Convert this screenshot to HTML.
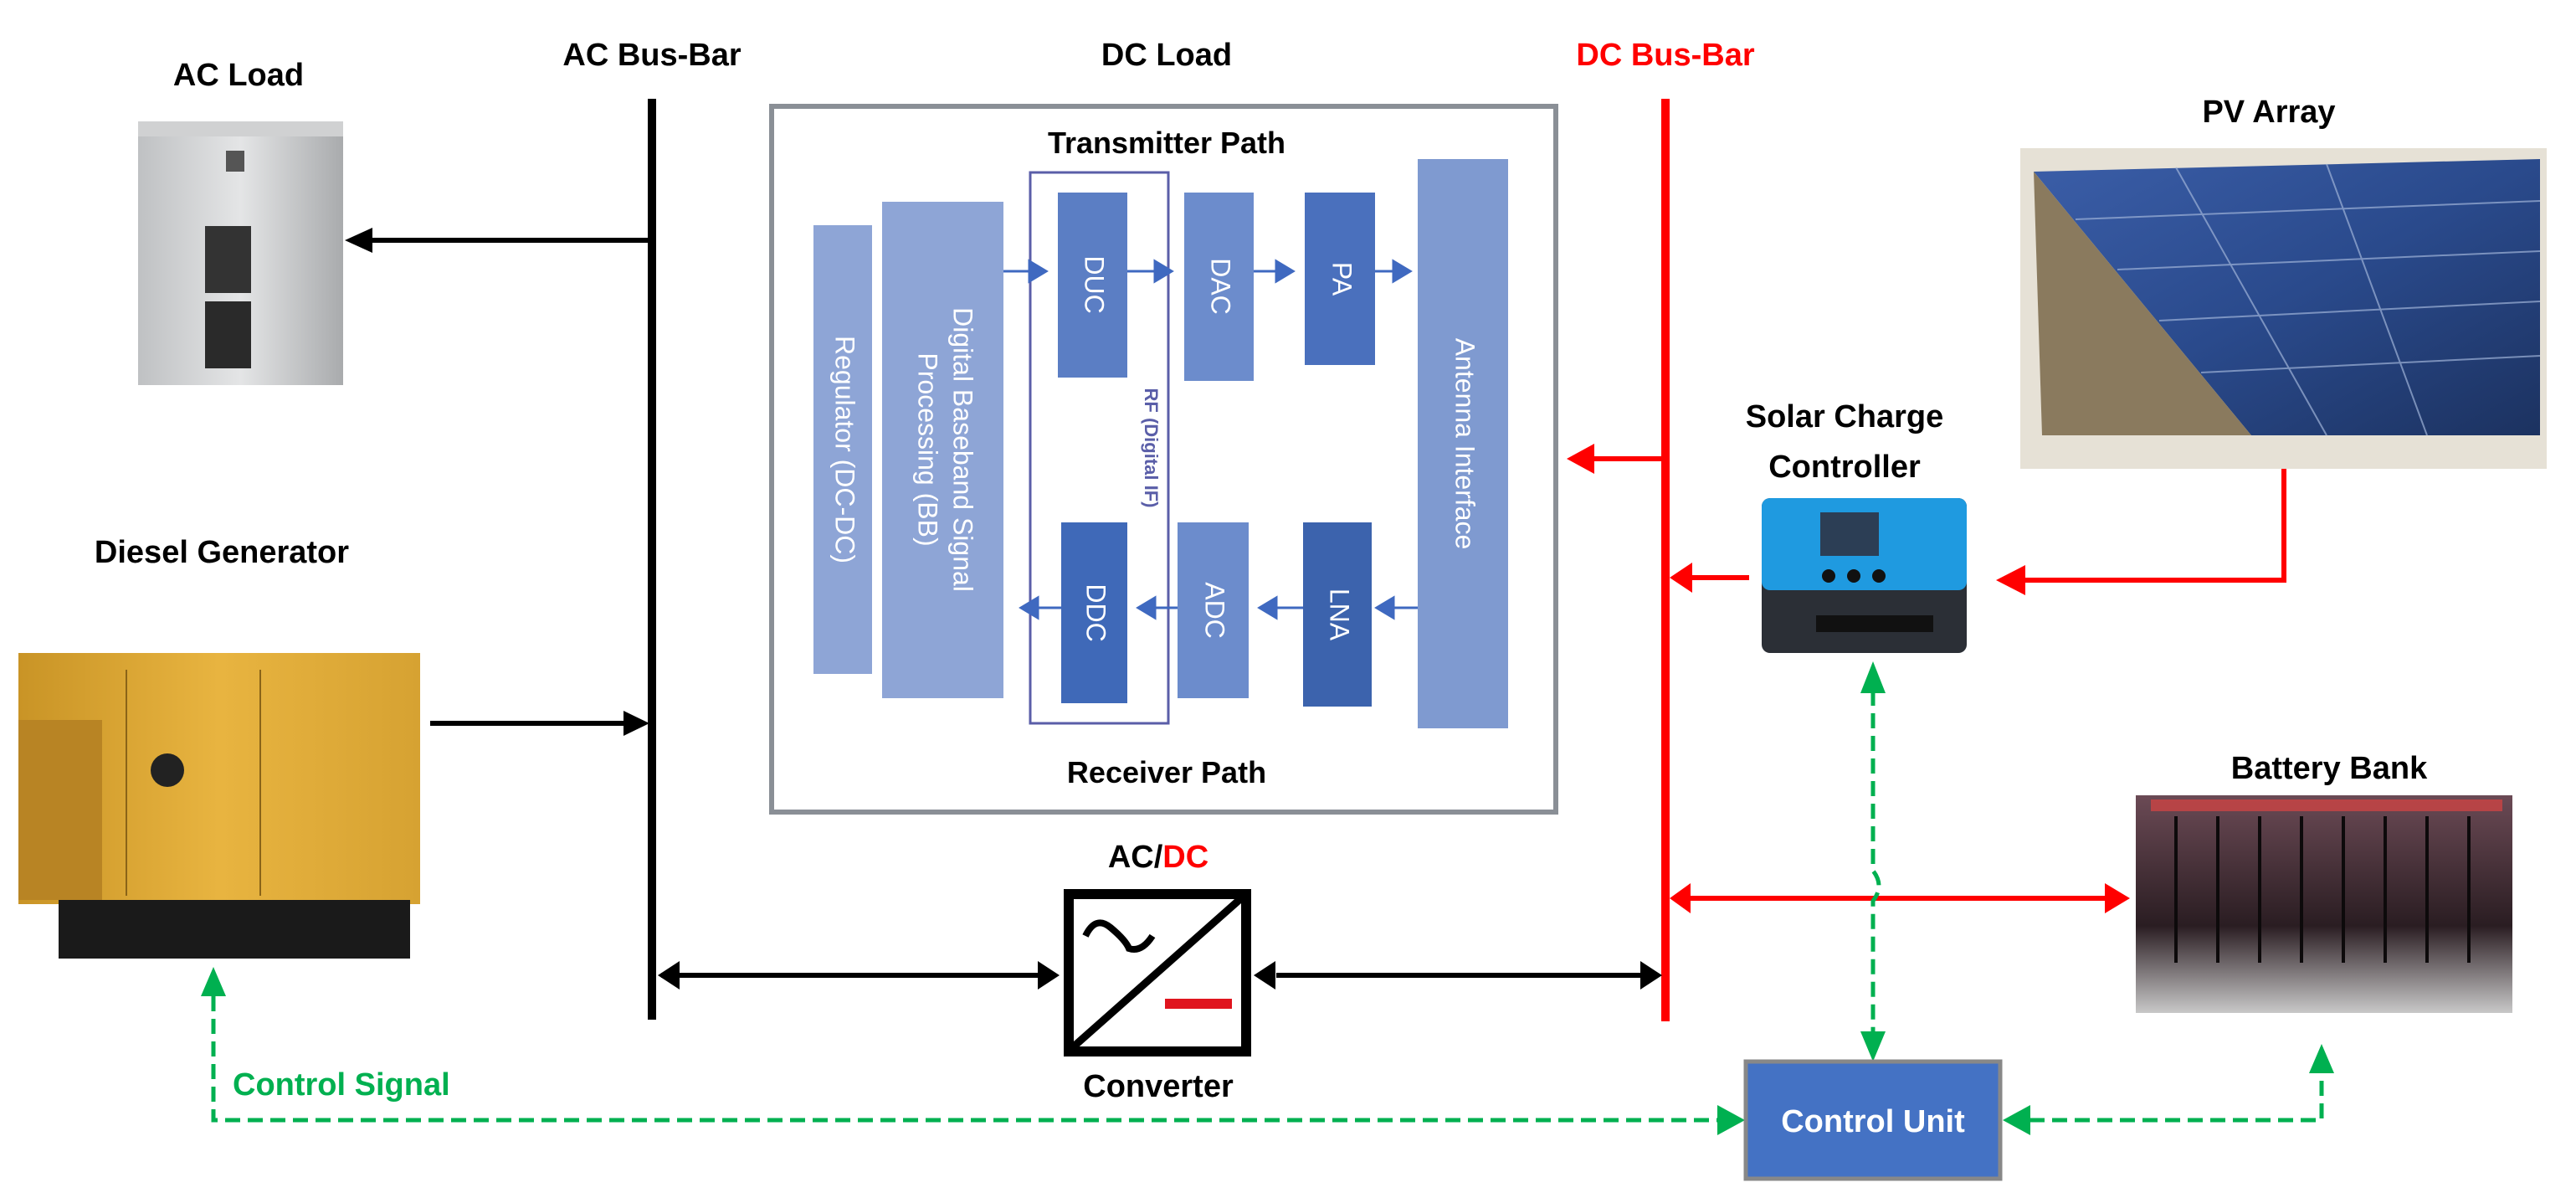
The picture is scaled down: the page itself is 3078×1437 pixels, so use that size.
<!DOCTYPE html>
<html><head><meta charset="utf-8"><style>
html,body{margin:0;padding:0;background:#fff;}
svg{display:block;}
text{font-family:"Liberation Sans",sans-serif;font-weight:bold;}
</style></head><body>
<svg width="3078" height="1437" viewBox="0 0 3078 1437" xmlns="http://www.w3.org/2000/svg">
<defs>
<linearGradient id="cab" x1="0" x2="1"><stop offset="0" stop-color="#bfc1c3"/><stop offset="0.5" stop-color="#e4e5e6"/><stop offset="1" stop-color="#a9abad"/></linearGradient>
<linearGradient id="pv" x1="0" y1="0" x2="1" y2="1"><stop offset="0" stop-color="#3b5ea8"/><stop offset="0.5" stop-color="#2a4a8c"/><stop offset="1" stop-color="#1c3260"/></linearGradient>
<linearGradient id="gen" x1="0" x2="1"><stop offset="0" stop-color="#c99426"/><stop offset="0.5" stop-color="#e8b440"/><stop offset="1" stop-color="#d6a232"/></linearGradient>
<linearGradient id="bat" x1="0" y1="0" x2="0" y2="1"><stop offset="0" stop-color="#6b4a55"/><stop offset="0.6" stop-color="#2a1d22"/><stop offset="1" stop-color="#c8c8c8"/></linearGradient>
</defs>

<!-- Labels -->
<text x="285" y="102" font-size="38" text-anchor="middle">AC Load</text>
<text x="779" y="78" font-size="38" text-anchor="middle">AC Bus-Bar</text>
<text x="1394" y="78" font-size="38" text-anchor="middle">DC Load</text>
<text x="1990" y="78" font-size="38" text-anchor="middle" fill="#ff0000">DC Bus-Bar</text>
<text x="2711" y="146" font-size="38" text-anchor="middle">PV Array</text>
<text x="2204" y="510" font-size="38" text-anchor="middle">Solar Charge</text>
<text x="2204" y="570" font-size="38" text-anchor="middle">Controller</text>
<text x="265" y="672" font-size="38" text-anchor="middle">Diesel Generator</text>
<text x="2783" y="930" font-size="38" text-anchor="middle">Battery Bank</text>
<text x="1384" y="1036" font-size="38" text-anchor="middle">AC/<tspan fill="#ff0000">DC</tspan></text>
<text x="1384" y="1310" font-size="38" text-anchor="middle">Converter</text>
<text x="278" y="1308" font-size="38" fill="#00b050">Control Signal</text>

<!-- AC load cabinet -->
<rect x="165" y="145" width="245" height="315" fill="url(#cab)"/>
<rect x="165" y="145" width="245" height="18" fill="#d0d1d2"/>
<rect x="270" y="180" width="22" height="25" fill="#555"/>
<rect x="245" y="270" width="55" height="80" fill="#333"/>
<rect x="245" y="360" width="55" height="80" fill="#2a2a2a"/>

<!-- Bars -->
<rect x="774" y="118" width="10" height="1100" fill="#000"/>
<rect x="1985" y="118" width="10" height="1102" fill="#ff0000"/>

<!-- DC Load box -->
<rect x="922" y="127" width="937" height="843" fill="#fff" stroke="#8a8f96" stroke-width="6"/>
<text x="1394" y="183" font-size="36" text-anchor="middle">Transmitter Path</text>
<text x="1394" y="935" font-size="36" text-anchor="middle">Receiver Path</text>
<rect x="972" y="269" width="70" height="536" fill="#8ea5d6"/>
<rect x="1054" y="241" width="145" height="593" fill="#8ea5d6"/>
<rect x="1231" y="206" width="165" height="658" fill="none" stroke="#5a5ea8" stroke-width="3"/>
<rect x="1264" y="230" width="83" height="221" fill="#5b7ec4"/>
<rect x="1415" y="230" width="83" height="225" fill="#6c8ccc"/>
<rect x="1559" y="230" width="84" height="206" fill="#4a70bd"/>
<rect x="1694" y="190" width="108" height="680" fill="#7f9ad0"/>
<rect x="1268" y="624" width="79" height="216" fill="#3f69b8"/>
<rect x="1407" y="624" width="85" height="210" fill="#6c8ccc"/>
<rect x="1557" y="624" width="82" height="220" fill="#3c63ad"/>
<g fill="#fff" font-size="32">
<text transform="translate(1007,537) rotate(90)" text-anchor="middle" dominant-baseline="middle" style="font-weight:normal">Regulator (DC-DC)</text>
<text transform="translate(1148,537) rotate(90)" text-anchor="middle" dominant-baseline="middle" style="font-weight:normal">Digital Baseband Signal</text>
<text transform="translate(1106,537) rotate(90)" text-anchor="middle" dominant-baseline="middle" style="font-weight:normal">Processing (BB)</text>
<text transform="translate(1305,340) rotate(90)" text-anchor="middle" dominant-baseline="middle" style="font-weight:normal">DUC</text>
<text transform="translate(1456,342) rotate(90)" text-anchor="middle" dominant-baseline="middle" style="font-weight:normal">DAC</text>
<text transform="translate(1601,333) rotate(90)" text-anchor="middle" dominant-baseline="middle" style="font-weight:normal">PA</text>
<text transform="translate(1748,530) rotate(90)" text-anchor="middle" dominant-baseline="middle" style="font-weight:normal">Antenna Interface</text>
<text transform="translate(1307,732) rotate(90)" text-anchor="middle" dominant-baseline="middle" style="font-weight:normal">DDC</text>
<text transform="translate(1449,729) rotate(90)" text-anchor="middle" dominant-baseline="middle" style="font-weight:normal">ADC</text>
<text transform="translate(1598,734) rotate(90)" text-anchor="middle" dominant-baseline="middle" style="font-weight:normal">LNA</text>
</g>
<text transform="translate(1368,535) rotate(90)" text-anchor="middle" font-size="22" fill="#5a5ea8">RF (Digital IF)</text>
<g fill="#3f69c0" stroke="#3f69c0" stroke-width="3">
<line x1="1199" y1="324" x2="1230" y2="324"/><path d="M1230,312 L1250,324 L1230,336z"/>
<line x1="1347" y1="324" x2="1380" y2="324"/><path d="M1380,312 L1400,324 L1380,336z"/>
<line x1="1498" y1="324" x2="1525" y2="324"/><path d="M1525,312 L1545,324 L1525,336z"/>
<line x1="1643" y1="324" x2="1665" y2="324"/><path d="M1665,312 L1685,324 L1665,336z"/>
<line x1="1694" y1="726" x2="1665" y2="726"/><path d="M1665,714 L1645,726 L1665,738z"/>
<line x1="1557" y1="726" x2="1525" y2="726"/><path d="M1525,714 L1505,726 L1525,738z"/>
<line x1="1407" y1="726" x2="1380" y2="726"/><path d="M1380,714 L1360,726 L1380,738z"/>
<line x1="1268" y1="726" x2="1240" y2="726"/><path d="M1240,714 L1220,726 L1240,738z"/>
</g>

<!-- black arrows -->
<line x1="779" y1="287" x2="440" y2="287" stroke="#000" stroke-width="6"/>
<path d="M445,272 L412,287 L445,302z"/>
<line x1="514" y1="864" x2="750" y2="864" stroke="#000" stroke-width="6"/>
<path d="M745,849 L776,864 L745,879z"/>
<line x1="790" y1="1165" x2="1240" y2="1165" stroke="#000" stroke-width="6"/>
<path d="M786,1165 L812,1148 L812,1182z"/><path d="M1266,1165 L1240,1148 L1240,1182z"/>
<line x1="1525" y1="1165" x2="1960" y2="1165" stroke="#000" stroke-width="6"/>
<path d="M1498,1165 L1524,1148 L1524,1182z"/><path d="M1986,1165 L1960,1148 L1960,1182z"/>

<!-- converter -->
<rect x="1277" y="1068" width="212" height="188" fill="#fff" stroke="#000" stroke-width="12"/>
<line x1="1283" y1="1250" x2="1483" y2="1073" stroke="#000" stroke-width="9"/>
<path d="M1297,1118 q12,-25 30,-10 t22,25 q15,5 28,-15" fill="none" stroke="#000" stroke-width="8"/>
<rect x="1392" y="1193" width="80" height="12" fill="#e0141e"/>

<!-- red arrows -->
<line x1="1990" y1="548" x2="1900" y2="548" stroke="#ff0000" stroke-width="6"/>
<path d="M1905,530 L1872,548 L1905,566z" fill="#ff0000"/>
<polyline points="2729,550 2729,693 2420,693" fill="none" stroke="#ff0000" stroke-width="6"/>
<path d="M2420,675 L2385,693 L2420,711z" fill="#ff0000"/>
<line x1="2090" y1="690" x2="2020" y2="690" stroke="#ff0000" stroke-width="6"/>
<path d="M2022,672 L1995,690 L2022,708z" fill="#ff0000"/>
<line x1="2020" y1="1073" x2="2515" y2="1073" stroke="#ff0000" stroke-width="6"/>
<path d="M2020,1055 L1995,1073 L2020,1091z" fill="#ff0000"/>
<path d="M2515,1055 L2545,1073 L2515,1091z" fill="#ff0000"/>

<!-- PV image -->
<rect x="2414" y="177" width="629" height="383" fill="#e6e1d6"/>
<path d="M2430,205 L3035,190 L3035,520 L2690,520 Z" fill="url(#pv)"/>
<path d="M2430,205 L2690,520 L2440,520 Z" fill="#8a7a5e"/>
<g stroke="#9fb3d8" stroke-width="2" opacity="0.7">
<line x1="2480" y1="262" x2="3035" y2="240"/><line x1="2530" y1="322" x2="3035" y2="300"/><line x1="2580" y1="383" x2="3035" y2="360"/><line x1="2630" y1="445" x2="3035" y2="425"/>
<line x1="2600" y1="200" x2="2780" y2="520"/><line x1="2780" y1="196" x2="2900" y2="520"/>
</g>

<!-- Charge controller -->
<rect x="2105" y="595" width="245" height="185" rx="10" fill="#2b2f36"/>
<rect x="2105" y="595" width="245" height="110" rx="10" fill="#1f9ae0"/>
<rect x="2175" y="612" width="70" height="52" fill="#2c3e55"/>
<circle cx="2185" cy="688" r="8" fill="#111"/><circle cx="2215" cy="688" r="8" fill="#111"/><circle cx="2245" cy="688" r="8" fill="#111"/>
<rect x="2170" y="735" width="140" height="20" fill="#111"/>

<!-- Diesel generator -->
<rect x="22" y="780" width="480" height="300" fill="url(#gen)"/>
<rect x="22" y="860" width="100" height="215" fill="#b88424"/>
<rect x="70" y="1075" width="420" height="70" fill="#1a1a1a"/>
<rect x="150" y="800" width="2" height="270" fill="#8a6418"/>
<rect x="310" y="800" width="2" height="270" fill="#8a6418"/>
<circle cx="200" cy="920" r="20" fill="#222"/>

<!-- Battery -->
<rect x="2552" y="950" width="450" height="260" fill="url(#bat)"/>
<g fill="#c44" opacity="0.8"><rect x="2570" y="955" width="420" height="14"/></g>
<g stroke="#0d0a0b" stroke-width="4">
<line x1="2600" y1="975" x2="2600" y2="1150"/><line x1="2650" y1="975" x2="2650" y2="1150"/><line x1="2700" y1="975" x2="2700" y2="1150"/><line x1="2750" y1="975" x2="2750" y2="1150"/><line x1="2800" y1="975" x2="2800" y2="1150"/><line x1="2850" y1="975" x2="2850" y2="1150"/><line x1="2900" y1="975" x2="2900" y2="1150"/><line x1="2950" y1="975" x2="2950" y2="1150"/>
</g>

<!-- green dashed -->
<g fill="none" stroke="#00b050" stroke-width="5" stroke-dasharray="18,9">
<path d="M2238,825 L2238,1040 q14,18 0,36 L2238,1235"/>
<polyline points="255,1190 255,1338 2055,1338"/>
<polyline points="2425,1338 2774,1338 2774,1280"/>
</g>
<g fill="#00b050">
<path d="M2223,828 L2238,790 L2253,828z"/>
<path d="M2223,1232 L2238,1268 L2253,1232z"/>
<path d="M240,1190 L255,1155 L270,1190z"/>
<path d="M2759,1282 L2774,1247 L2789,1282z"/>
<path d="M2052,1320 L2085,1338 L2052,1356z"/>
<path d="M2426,1320 L2393,1338 L2426,1356z"/>
</g>

<!-- control unit -->
<rect x="2086" y="1268" width="304" height="140" fill="#4472c4" stroke="#888" stroke-width="5"/>
<text x="2238" y="1352" font-size="38" fill="#fff" text-anchor="middle">Control Unit</text>
</svg>
</body></html>
